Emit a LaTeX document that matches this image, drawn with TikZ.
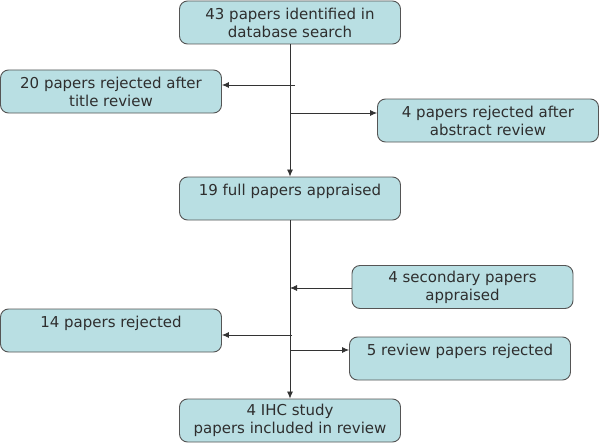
\documentclass[tikz,border=0pt]{standalone}
\usepackage{fontspec}
\setmainfont{DejaVu Sans}
\usetikzlibrary{arrows.meta}

\definecolor{boxfill}{HTML}{B9DFE3}
\definecolor{boxline}{HTML}{555555}
\definecolor{boxtext}{HTML}{2E2E2E}
\definecolor{flowline}{HTML}{333333}

\tikzset{
	paper/.style={draw=boxline, fill=boxfill, rounded corners=8pt, line width=0.9pt,
		minimum width=221pt, minimum height=43pt, align=center, text=boxtext,
		font=\fontsize{15}{18}\selectfont},
	paperup/.style={paper, text depth=18pt},
	flow/.style={draw=flowline, line width=0.8pt, -{Latex[length=7pt,width=6pt]}}
}

\begin{document}
\begin{tikzpicture}[x=1pt,y=-1pt]
	\useasboundingbox (0,0) rectangle (600,444);

	% main column
	\node[paper] (search) at (290,22.5) {43 papers identified in\\database search};
	\node[paperup] (full) at (290,198.5) {19 full papers appraised};
	\node[paper] (final) at (290,420.5) {4 IHC study\\papers included in review};

	% side boxes
	\node[paper] (titlerej) at (111,91.5) {20 papers rejected after\\title review};
	\node[paper] (absrej) at (488,120.5) {4 papers rejected after\\abstract review};
	\node[paper] (second) at (462.5,287) {4 secondary papers\\appraised};
	\node[paperup] (rejected) at (111,330.5) {14 papers rejected};
	\node[paperup] (reviewrej) at (460,358.5) {5 review papers rejected};

	% junctions on the main line
	\coordinate (j1) at (295,85);
	\coordinate (j2) at (290,113);
	\coordinate (j3) at (290,288);
	\coordinate (j4) at (292,335);
	\coordinate (j5) at (290,350);

	\draw[flow] (search) -- (full);
	\draw[flow] (full) -- (final);

	\draw[flow] (j1) -- (j1 -| titlerej.east);
	\draw[flow] (j2) -- (j2 -| absrej.west);
	\draw[flow] (j3 -| second.west) -- (j3);
	\draw[flow] (j4) -- (j4 -| rejected.east);
	\draw[flow] (j5) -- (j5 -| reviewrej.west);
\end{tikzpicture}
\end{document}
